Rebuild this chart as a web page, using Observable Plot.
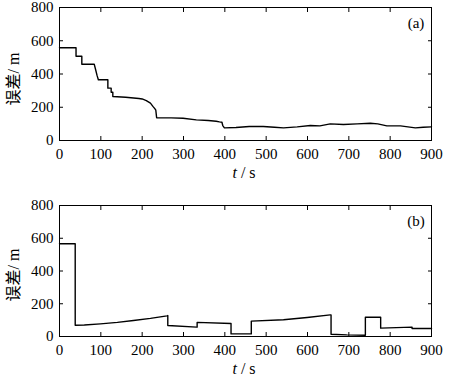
<!DOCTYPE html>
<html><head><meta charset="utf-8">
<script src="https://cdn.jsdelivr.net/npm/d3@7"></script>
<script src="https://cdn.jsdelivr.net/npm/@observablehq/plot@0.6"></script>
<style>body{margin:0;background:#fff}svg{display:block}
svg text{font-family:"Liberation Serif","Times New Roman","DejaVu Serif",serif !important}
svg text .cjk{font-family:"Noto Sans CJK SC",sans-serif !important}
</style>
</head><body><div id="chart"></div>
<script>
// Panel (a): error vs time
const tA = [0,40,40,54,54,84,87,91,94,117,117,125,125,129,129,160,192,200,210,220,226,231,233,235,235,270,299,331,360,379,387,393,395,399,427,459,493,520,542,575,607,630,655,687,720,752,770,792,825,861,880,900];
const eA = [558,558,507,507,459,459,430,390,365,365,315,315,290,290,265,260,253,250,240,225,205,190,182,137,137,136,134,124,120,116,112,110,90,76,78,84,84,80,76,82,90,88,100,96,100,104,100,88,88,76,80,82];
// Panel (b)
const tB = [0,38,38,60,99,140,179,220,260,262,262,332,333,333,415,415,464,464,542,599,655,657,657,695,740,740,776,777,777,853,853,900];
const eB = [566,566,69,70,77,86,98,111,126,128,67,57,57,86,79,16,16,94,102,116,132,132,14,10,8,118,118,118,51,57,49,49];

const xTicks = [0,100,200,300,400,500,600,700,800,900];
const yTicks = [0,200,400,600,800];
const yLabelCJK = "误差";
const yLabelUnit = "/ m";
const xLabelVar = "t";
const xLabelUnit = " / s";
const tags = ["(a)", "(b)"];

function panel(t, e, tag, height, mt, mb, labelY) {
  const data = t.map((v, i) => ({t: v, e: e[i]}));
  const svg = Plot.plot({
    width: 449, height,
    marginTop: mt, marginBottom: mb, marginLeft: 59, marginRight: 18,
    style: {fontFamily: "'Liberation Serif', serif", fontSize: "15px", color: "black", background: "white"},
    x: {domain: [0, 900], label: null},
    y: {domain: [0, 800], label: null},
    marks: [
      Plot.frame({stroke: "black", strokeWidth: 1}),
      Plot.axisX(xTicks, {anchor: "bottom", tickSize: -4, tickPadding: 12, label: null, fontSize: 15}),
      Plot.axisX(xTicks, {anchor: "top", tickSize: -4, tickFormat: () => "", label: null}),
      Plot.axisY(yTicks, {anchor: "left", tickSize: -4, tickPadding: 10, label: null, fontSize: 15}),
      Plot.axisY(yTicks, {anchor: "right", tickSize: -4, tickFormat: () => "", label: null}),
      Plot.line(data, {x: "t", y: "e", stroke: "black", strokeWidth: 1.4, curve: "linear"}),
      Plot.text([tag], {frameAnchor: "top-right", textAnchor: "middle", lineAnchor: "middle", dx: -15.5, dy: 16, text: d => d, fontSize: 15})
    ]
  });
  const s = d3.select(svg);
  const yl = s.append("text")
    .attr("transform", `translate(15,${labelY}) rotate(-90)`)
    .attr("text-anchor", "middle")
    .attr("dominant-baseline", "middle")
    .attr("font-size", 16);
  yl.append("tspan").attr("class", "cjk").text(yLabelCJK);
  yl.append("tspan").text(yLabelUnit);
  const xl = s.append("text")
    .attr("x", 244).attr("y", height - mb + 38)
    .attr("text-anchor", "middle")
    .attr("font-size", 16);
  xl.append("tspan").attr("font-style", "italic").text(xLabelVar);
  xl.append("tspan").text(xLabelUnit);
  return svg;
}

const root = document.getElementById("chart");
root.appendChild(panel(tA, eA, tags[0], 190, 7, 50, 79));
root.appendChild(panel(tB, eB, tags[1], 189, 15, 43, 85));
</script></body></html>
